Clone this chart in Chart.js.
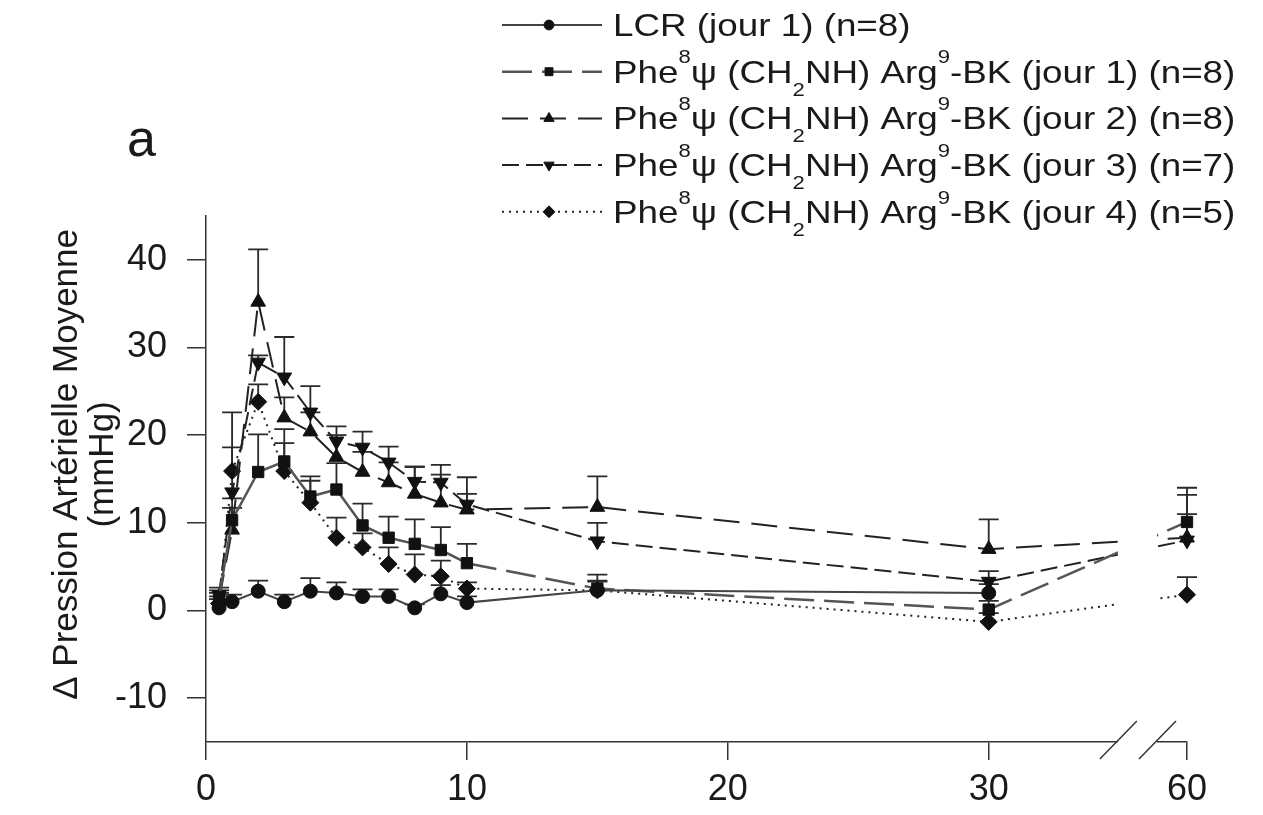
<!DOCTYPE html>
<html>
<head>
<meta charset="utf-8">
<script src="https://cdn.jsdelivr.net/npm/chart.js@4.4.1/dist/chart.umd.min.js"></script>
<style>
  body { margin: 0; background: #fff; }
  canvas { display: block; }
</style>
</head>
<body>
<canvas id="myChart" width="1263" height="815"></canvas>
<script>
// Minutes after injection
var times = [0.5, 1, 2, 3, 4, 5, 6, 7, 8, 9, 10, 15, 30, 60];

// Change in mean arterial pressure (mmHg) and SEM per group
var lcr      = [0.3, 1.0, 2.2, 1.0, 2.2, 2.0, 1.6, 1.6, 0.3, 1.9, 0.9, 2.3, 2.0, null];
var lcrSem   = [1.0, 0.8, 1.2, 0.8, 1.5, 1.2, 0.8, 0.8, 0.4, 1.0, 0.7, 1.1, 1.0, null];
var jour1    = [1.5, 10.3, 15.8, 17.0, 13.0, 13.8, 9.7, 8.3, 7.6, 6.9, 5.4, 2.5, 0.1, 10.1];
var jour1Sem = [0.8, 2.5, 4.3, 2.1, 2.3, 3.0, 2.5, 2.4, 2.8, 2.6, 2.2, 1.6, 1.0, 3.9];
var jour2    = [1.2, 9.2, 35.2, 22.0, 20.4, 17.5, 15.8, 14.6, 13.3, 12.3, 11.5, 11.8, 7.0, 8.3];
var jour2Sem = [0.8, 2.5, 6.0, 2.3, 2.2, 2.5, 2.3, 2.3, 3.1, 3.2, 1.8, 3.5, 3.4, 4.9];
var jour3    = [1.8, 13.5, 28.3, 26.6, 22.6, 19.3, 18.6, 16.9, 14.7, 14.6, 12.1, 7.9, 3.3, 8.0];
var jour3Sem = [0.8, 5.1, 0.8, 4.6, 3.0, 1.7, 1.8, 1.8, 1.7, 2.0, 3.1, 2.1, 1.2, 3.0];
var jour4    = [0.8, 15.9, 23.8, 15.9, 12.3, 8.3, 7.2, 5.3, 4.1, 3.9, 2.5, 2.3, -1.3, 1.8];
var jour4Sem = [0.8, 6.7, 2.0, 4.8, 2.5, 2.3, 1.6, 1.9, 2.3, 1.8, 0.7, 1.0, 1.0, 2.0];

var seriesLabels = [
    'LCR (jour 1) (n=8)',
    'Phe^8ψ (CH_2NH) Arg^9-BK (jour 1) (n=8)',
    'Phe^8ψ (CH_2NH) Arg^9-BK (jour 2) (n=8)',
    'Phe^8ψ (CH_2NH) Arg^9-BK (jour 3) (n=7)',
    'Phe^8ψ (CH_2NH) Arg^9-BK (jour 4) (n=5)'
];

var xTicks = [0, 10, 20, 30, 60];
var yTicks = [-10, 0, 10, 20, 30, 40];

// x axis is broken after 30 min: 60 min is drawn just past the break
var POS_60 = 37.6;
var BREAK_FROM = 34.95, BREAK_TO = 36.45;

var FONT = '"Liberation Sans", Arial, Helvetica, sans-serif';

function xPos(t) {
    return t === 60 ? POS_60 : t;
}

function points(values, sem) {
    var out = [];
    for (var i = 0; i < times.length; i++) {
        if (values[i] === null) continue;
        out.push({ x: xPos(times[i]), y: values[i], err: sem[i] });
    }
    return out;
}

function series(label, values, sem, style, radius, color, width, dash, rotation) {
    return {
        label: label,
        data: points(values, sem),
        borderColor: color,
        borderWidth: width,
        borderDash: dash,
        pointStyle: style,
        pointRadius: radius,
        pointRotation: rotation || 0,
        pointBackgroundColor: '#111',
        pointBorderColor: '#111',
        pointBorderWidth: 1,
        tension: 0,
        clip: false
    };
}

// SEM bars, upward only, drawn under the markers
var errorBars = {
    id: 'errorBars',
    beforeDatasetsDraw: function (chart) {
        var ctx = chart.ctx, xs = chart.scales.x, ys = chart.scales.y;
        ctx.save();
        ctx.strokeStyle = '#2a2a2a';
        ctx.lineWidth = 1.8;
        chart.data.datasets.forEach(function (ds) {
            ds.data.forEach(function (p) {
                if (!p.err) return;
                var px = xs.getPixelForValue(p.x);
                var y0 = ys.getPixelForValue(p.y);
                var y1 = ys.getPixelForValue(p.y + p.err);
                ctx.beginPath();
                ctx.moveTo(px, y0);
                ctx.lineTo(px, y1);
                ctx.moveTo(px - 10, y1);
                ctx.lineTo(px + 10, y1);
                ctx.stroke();
            });
        });
        ctx.restore();
    }
};

// blank out the gap on the time axis and draw the // marks
var axisBreak = {
    id: 'axisBreak',
    afterDatasetsDraw: function (chart) {
        var ctx = chart.ctx, a = chart.chartArea, xs = chart.scales.x;
        var x0 = xs.getPixelForValue(BREAK_FROM), x1 = xs.getPixelForValue(BREAK_TO);
        ctx.save();
        ctx.fillStyle = '#fff';
        ctx.fillRect(x0, a.top, x1 - x0, a.bottom - a.top + 3);
        ctx.strokeStyle = '#333';
        ctx.lineWidth = 1.5;
        [x0, x1].forEach(function (cx) {
            ctx.beginPath();
            ctx.moveTo(cx - 18, a.bottom + 17);
            ctx.lineTo(cx + 19, a.bottom - 21);
            ctx.stroke();
        });
        ctx.restore();
    }
};

// text with ^x superscripts and _x subscripts
function drawRich(ctx, text, x, y, size) {
    var runs = [], cur = '';
    for (var i = 0; i < text.length; i++) {
        var ch = text[i];
        if ((ch === '^' || ch === '_') && i + 1 < text.length) {
            if (cur) runs.push({ t: cur, k: 0 });
            cur = '';
            runs.push({ t: text[++i], k: ch === '^' ? 1 : -1 });
        } else {
            cur += ch;
        }
    }
    if (cur) runs.push({ t: cur, k: 0 });

    ctx.save();
    ctx.translate(x, y);
    ctx.scale(1.15, 1);
    var cx = 0;
    runs.forEach(function (r) {
        var s = r.k ? size * 0.6 : size;
        var dy = r.k === 1 ? -size * 0.6 : (r.k === -1 ? size * 0.4 : 0);
        ctx.font = s + 'px ' + FONT;
        ctx.fillText(r.t, cx, dy);
        cx += ctx.measureText(r.t).width;
    });
    ctx.restore();
}

var seriesKey = {
    id: 'seriesKey',
    afterDraw: function (chart) {
        var ctx = chart.ctx;
        ctx.save();
        ctx.fillStyle = '#1a1a1a';
        ctx.textBaseline = 'alphabetic';
        chart.data.datasets.forEach(function (ds, i) {
            var y = 25 + i * 46.7;
            ctx.strokeStyle = ds.borderColor;
            ctx.lineWidth = ds.borderWidth;
            ctx.setLineDash(ds.borderDash || []);
            ctx.beginPath();
            ctx.moveTo(502, y);
            ctx.lineTo(602, y);
            ctx.stroke();
            ctx.setLineDash([]);
            ctx.fillStyle = '#111';
            ctx.strokeStyle = '#111';
            ctx.lineWidth = 1;
            Chart.helpers.drawPoint(ctx, {
                pointStyle: ds.pointStyle,
                rotation: ds.pointRotation,
                radius: ds.pointRadius * 0.7,
                borderWidth: 1
            }, 549, y);
            ctx.fillStyle = '#1a1a1a';
            drawRich(ctx, seriesLabels[i], 613, y + 11, 32);
        });
        ctx.font = '52px ' + FONT;
        ctx.fillText('a', 127, 156);
        ctx.restore();
    }
};

var datasets = [
    series(seriesLabels[0], lcr, lcrSem, 'circle', 7, '#444', 2, []),
    series(seriesLabels[1], jour1, jour1Sem, 'rect', 8, '#555', 2.5, [30, 10]),
    series(seriesLabels[2], jour2, jour2Sem, 'triangle', 8.5, '#222', 2, [26, 12]),
    series(seriesLabels[3], jour3, jour3Sem, 'triangle', 8.5, '#222', 2, [17, 7], 180),
    series(seriesLabels[4], jour4, jour4Sem, 'rectRot', 8.5, '#222', 2, [2, 5])
];
// the day-1 curve is solid over the first 10 minutes
datasets[1].segment = {
    borderDash: function (c) { return c.p1.parsed.x <= 10 ? [] : undefined; }
};

var ctx = document.getElementById('myChart').getContext('2d');
var myChart = new Chart(ctx, {
    type: 'line',
    data: { datasets: datasets },
    options: {
        responsive: false,
        animation: false,
        devicePixelRatio: 1,
        layout: { padding: { left: 0, top: 216, right: 76, bottom: 0 } },
        plugins: {
            legend: { display: false },
            tooltip: { enabled: false }
        },
        scales: {
            x: {
                type: 'linear',
                min: 0,
                max: POS_60,
                afterFit: function (s) { s.height = 73; },
                afterBuildTicks: function (s) {
                    s.ticks = xTicks.map(function (t) { return { value: xPos(t) }; });
                },
                grid: { drawOnChartArea: false, drawTicks: true, tickLength: 18, color: '#333', lineWidth: 1.5 },
                border: { color: '#333', width: 1.5 },
                ticks: {
                    font: { family: FONT, size: 36 },
                    color: '#1a1a1a',
                    padding: 8,
                    maxRotation: 0,
                    autoSkip: false,
                    callback: function (v) {
                        for (var i = 0; i < xTicks.length; i++) {
                            if (xPos(xTicks[i]) === v) return String(xTicks[i]);
                        }
                        return '';
                    }
                }
            },
            y: {
                type: 'linear',
                min: -15,
                max: 45,
                afterFit: function (s) { s.width = 206; },
                afterBuildTicks: function (s) {
                    s.ticks = yTicks.map(function (v) { return { value: v }; });
                },
                grid: { drawOnChartArea: false, drawTicks: true, tickLength: 19, color: '#333', lineWidth: 1.5 },
                border: { color: '#333', width: 1.5 },
                ticks: {
                    font: { family: FONT, size: 36 },
                    color: '#1a1a1a',
                    padding: 20
                },
                title: {
                    display: true,
                    // leading spaces nudge the centred lines up a little
                    text: ['   Δ Pression Artérielle Moyenne', '   (mmHg)'],
                    font: { family: FONT, size: 35, lineHeight: 1.03 },
                    color: '#1a1a1a',
                    padding: { top: 49, bottom: 0 }
                }
            }
        }
    },
    plugins: [errorBars, axisBreak, seriesKey]
});
</script>
</body>
</html>
